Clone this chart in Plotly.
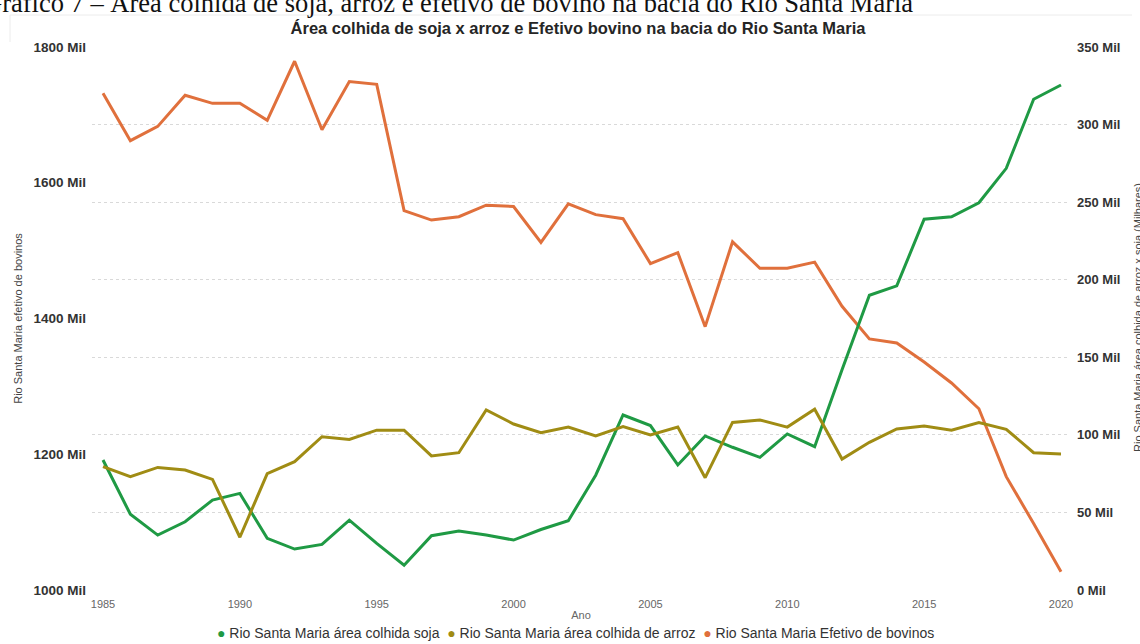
import plotly.graph_objects as go

# ---------------- data ----------------
years = list(range(1985, 2021))

soja = [83.8, 48.8, 35.4, 44, 58, 62.3, 33.3, 26.4, 29.4, 45, 30, 16, 35, 38, 35.4, 32.2,
        39, 44.7, 74, 112.8, 106, 80.6, 99.3, 92, 85.5, 100.6, 92.4, 142, 190, 196, 239,
        240.6, 249.6, 271.8, 316.3, 325.5]

arroz = [79.5, 73, 79, 77.3, 71.3, 34, 75, 82.7, 98.8, 97, 103, 103, 86.4, 88.5, 116, 107,
         101.4, 105, 99.3, 105.3, 100, 105, 72.4, 108, 109.6, 105, 116.5, 84.4, 95.2, 103.8,
         105.7, 103, 108, 103.6, 88.5, 87.7]

bovinos = [1732, 1662, 1683, 1729, 1717, 1717, 1692, 1779, 1678, 1749, 1745, 1559, 1545,
           1550, 1567, 1565, 1512, 1569, 1553, 1547, 1481, 1497, 1388, 1513, 1474, 1474,
           1483, 1418, 1370, 1364, 1336, 1305, 1267, 1167, 1098, 1027]

names = ["Rio Santa Maria área colhida soja",
         "Rio Santa Maria área colhida de arroz",
         "Rio Santa Maria Efetivo de bovinos"]
colors = ["#1f9a44", "#a08c14", "#e0703c"]

left_ticks = [1000, 1200, 1400, 1600, 1800]
right_ticks = [0, 50, 100, 150, 200, 250, 300, 350]
x_ticks = [1985, 1990, 1995, 2000, 2005, 2010, 2015, 2020]

# ---------------- layout geometry (pixels) ----------------
W, H = 1140, 644
L, R, T, B = 92, 70, 47, 54
PW, PH = W - L - R, H - T - B


def px_x(x):
    return (x - L) / PW


def px_y(y):
    return (H - B - y) / PH


fig = go.Figure()

fig.add_trace(go.Scatter(x=years, y=bovinos, name=names[2], mode="lines",
                         line=dict(color=colors[2], width=3), yaxis="y"))
fig.add_trace(go.Scatter(x=years, y=soja, name=names[0], mode="lines",
                         line=dict(color=colors[0], width=3), yaxis="y2"))
fig.add_trace(go.Scatter(x=years, y=arroz, name=names[1], mode="lines",
                         line=dict(color=colors[1], width=3), yaxis="y2"))

fig.update_layout(
    width=W, height=H,
    margin=dict(l=L, r=R, t=T, b=B, autoexpand=False),
    paper_bgcolor="white", plot_bgcolor="white",
    font=dict(family="Liberation Sans, Arial, sans-serif", color="#333"),
    showlegend=False,
    title=dict(text="<b>Área colhida de soja x arroz e Efetivo bovino na bacia do Rio Santa Maria</b>",
               x=578 / W, y=1 - 28 / H, xanchor="center", yanchor="middle",
               font=dict(size=16.5, color="#252525")),
    xaxis=dict(range=[1985 - 11 / 27.37, 2020 + 9 / 27.37], tickvals=x_ticks,
               showgrid=False, zeroline=False, showline=False, ticks="",
               ticklabelstandoff=6,
               tickfont=dict(size=11, color="#666"),
               title=dict(text="Ano", font=dict(size=11, color="#666"), standoff=2)),
    yaxis=dict(range=[1000, 1800], tickvals=left_ticks,
               ticktext=[f"<b>{v} Mil</b>" for v in left_ticks],
               showgrid=False, zeroline=False, showline=False, ticks="",
               ticklabelstandoff=5,
               tickfont=dict(size=13.5, color="#333"),
               title=dict(text="Rio Santa Maria efetivo de bovinos",
                          font=dict(size=11, color="#444"), standoff=8)),
    yaxis2=dict(range=[0, 350], tickvals=right_ticks,
                ticktext=[f"<b>{v} Mil</b>" for v in right_ticks],
                overlaying="y", side="right",
                showgrid=True, gridcolor="#d9d9d9", griddash="dot", gridwidth=1,
                zeroline=False, showline=False, ticks="",
                ticklabelstandoff=6,
                tickfont=dict(size=13, color="#333")),
)

# right axis title (partly cut by the page edge)
fig.add_annotation(text="Rio Santa Maria área colhida de arroz x soja (Milhares)",
                   xref="paper", yref="paper", x=px_x(1138), y=px_y(318),
                   textangle=-90, showarrow=False, xanchor="center", yanchor="middle",
                   font=dict(size=11, color="#444"))

# legend built as text with coloured dots
legend_text = "  ".join(
    f"<span style='color:{c}'>●</span> {n}" for n, c in zip(names, colors))
fig.add_annotation(text=legend_text, xref="paper", yref="paper",
                   x=px_x(575), y=px_y(633), xanchor="center", yanchor="middle",
                   showarrow=False, font=dict(size=14, color="#333"))

# document caption cut at the top of the picture
fig.add_annotation(text="Gráfico 7 – Área colhida de soja, arroz e efetivo de bovino na bacia do Rio Santa Maria",
                   xref="paper", yref="paper", x=px_x(-19), y=px_y(20),
                   showarrow=False, xanchor="left", yanchor="bottom",
                   font=dict(family="Liberation Serif, Times New Roman, serif", size=26.5, color="#111"))

# faint frame of the visual
fig.add_shape(type="line", xref="paper", yref="paper", x0=px_x(10), x1=px_x(1132),
              y0=px_y(15), y1=px_y(15), line=dict(color="#ececec", width=1))
fig.add_shape(type="line", xref="paper", yref="paper", x0=px_x(10), x1=px_x(10),
              y0=px_y(15), y1=px_y(42), line=dict(color="#ececec", width=1))

fig.write_html("out.html", config={"displayModeBar": False},
               post_script="document.body.style.margin='0';")
